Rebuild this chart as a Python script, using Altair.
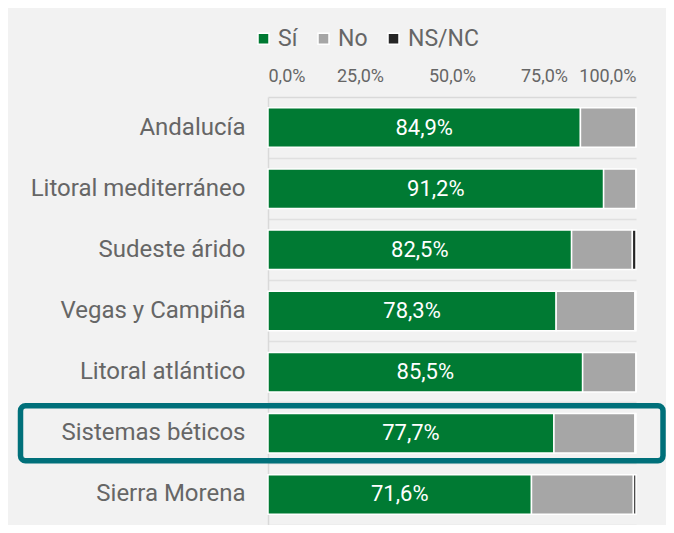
import altair as alt
import pandas as pd

regions = ["Andalucía", "Litoral mediterráneo", "Sudeste árido", "Vegas y Campiña",
           "Litoral atlántico", "Sistemas béticos", "Sierra Morena"]
si = [84.9, 91.2, 82.5, 78.3, 85.5, 77.7, 71.6]
no = [15.1, 8.8, 16.5, 21.4, 14.5, 22.0, 27.7]
nsnc = [0.0, 0.0, 1.0, 0.3, 0.0, 0.3, 0.7]
categories = ["Sí", "No", "NS/NC"]
colors = ["#007a33", "#a6a6a6", "#262626"]
highlight = ["Sistemas béticos"]
ticks = [0, 25, 50, 75, 100]

rows = []
for i, r in enumerate(regions):
    for k, (cat, vals) in enumerate(zip(categories, [si, no, nsnc])):
        rows.append({"region": r, "cat": cat, "value": vals[i], "k": k})
df = pd.DataFrame(rows)
df_si = pd.DataFrame({"region": regions, "value": si})
df_hl = pd.DataFrame({"region": highlight})

FONT = "Roboto"
TXT = "#666666"

y_enc = alt.Y("region:N", sort=regions, title=None,
              scale=alt.Scale(paddingInner=0, paddingOuter=0),
              axis=alt.Axis(labelFont=FONT, labelFontSize=24, labelColor=TXT,
                            labelPadding=23, labelLimit=400, ticks=False, domain=True,
                            domainColor="#d9d9d9", domainWidth=1.5,
                            grid=True, gridColor="#e0e0e0", gridWidth=1.5,
                            bandPosition=1))

bars = alt.Chart(df).mark_bar(height=39.5, stroke="white", strokeWidth=1.5).encode(
    y=y_enc,
    x=alt.X("value:Q", stack="zero", title=None,
            scale=alt.Scale(domain=[0, 100], nice=False),
            axis=alt.Axis(orient="top", values=ticks, grid=False, ticks=False,
                          labelExpr="replace(format(datum.value, '.1f'), '.', ',') + '%'",
                          labelFont=FONT, labelFontSize=18, labelColor=TXT,
                          labelPadding=12, domainColor="#d9d9d9", domainWidth=1.5)),
    color=alt.Color("cat:N", scale=alt.Scale(domain=categories, range=colors),
                    legend=alt.Legend(orient="none", legendX=-16, legendY=-70,
                                      direction="horizontal", title=None,
                                      symbolType="square", symbolSize=121,
                                      symbolStrokeColor="white", symbolStrokeWidth=1.5,
                                      symbolOpacity=1,
                                      labelFont=FONT, labelFontSize=23, labelColor=TXT,
                                      labelOffset=3, columnPadding=14)),
    order=alt.Order("k:Q"),
)

labels = alt.Chart(df_si).transform_calculate(
    mid="datum.value / 2",
    txt="replace(format(datum.value, '.1f'), '.', ',') + '%'",
).mark_text(font=FONT, fontSize=22, color="white").encode(
    y=alt.Y("region:N", sort=regions),
    x=alt.X("mid:Q"),
    text="txt:N",
)

box = alt.Chart(df_hl).mark_rect(height=55, fill=None, fillOpacity=0, stroke="#00707a",
                                 strokeWidth=5.5, cornerRadius=5).encode(
    y=alt.Y("region:N", sort=regions),
    x=alt.value(-247.5),
    x2=alt.value(395),
)

chart = alt.layer(bars, labels, box).properties(
    width=368, height=428,
    autosize=alt.AutoSizeParams(type="none"),
    padding={"left": 260, "top": 89, "right": 30, "bottom": 0},
    background="#f2f2f2",
).configure_view(stroke=None)

chart.save("out.html", embed_options={"renderer": "svg", "actions": False})
